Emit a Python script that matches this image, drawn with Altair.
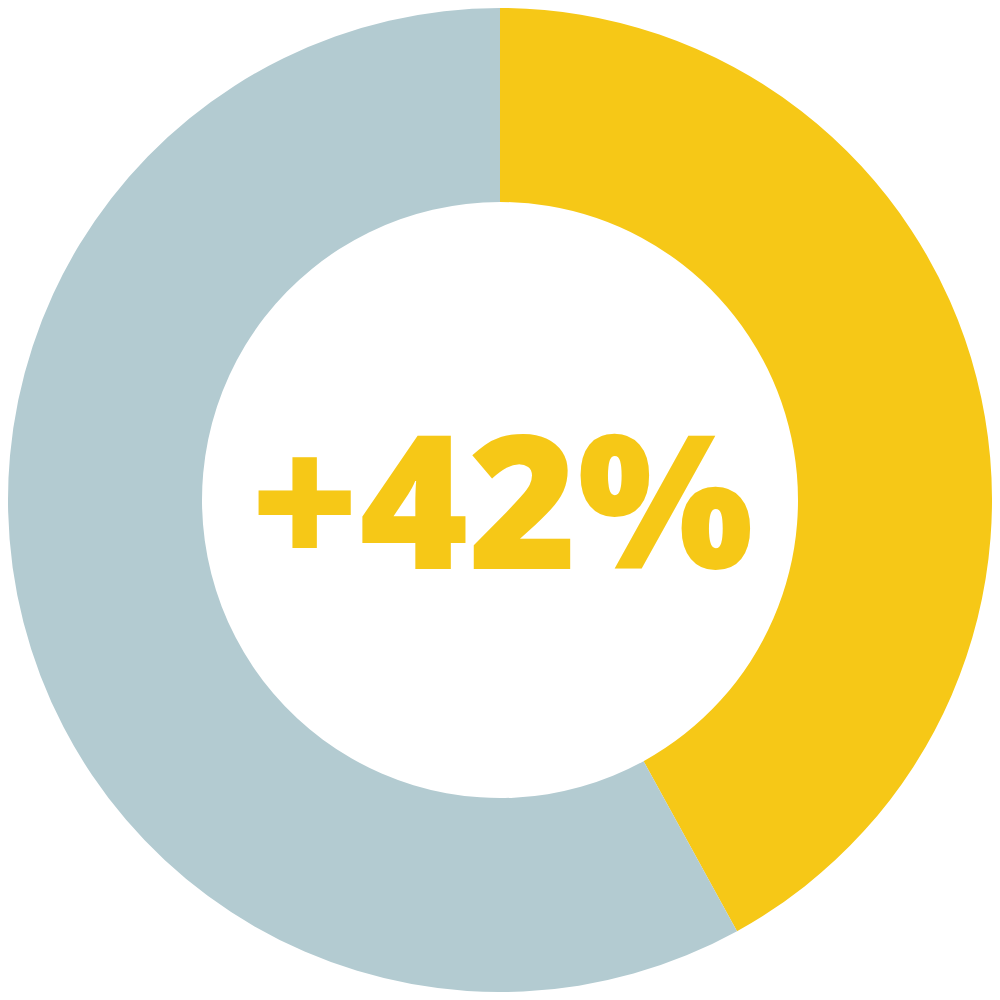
import altair as alt
import pandas as pd

categories = ["Increase", "Rest"]
values = [42, 58]
colors = ["#F6C817", "#B3CBD1"]
label = ["+42%"]

df = pd.DataFrame({"category": categories, "value": values, "order": [0, 1]})

base = alt.Chart(df)
donut = base.mark_arc(outerRadius=492, innerRadius=298, stroke=None).encode(
    theta=alt.Theta("value:Q", stack=True),
    order=alt.Order("order:Q"),
    color=alt.Color("category:N", scale=alt.Scale(domain=categories, range=colors), legend=None),
)

text = alt.Chart(pd.DataFrame({"label": label})).mark_text(
    font="Open Sans", fontWeight=800, fontSize=186, color=colors[0],
    baseline="alphabetic", align="center", dy=69, dx=2,
).encode(
    text="label:N",
    x=alt.value(492), y=alt.value(492),
)

chart = alt.layer(donut, text).properties(
    width=984, height=984,
    autosize=alt.AutoSizeParams(type="fit", contains="padding"),
    padding=0,
).configure_view(stroke=None)

chart.save("out.html", embed_options={"renderer": "svg", "actions": False})
